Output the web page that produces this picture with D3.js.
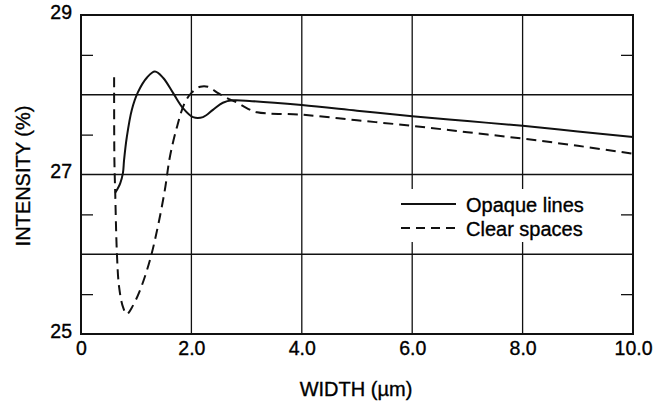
<!DOCTYPE html>
<html>
<head>
<meta charset="utf-8">
<script src="https://cdn.jsdelivr.net/npm/d3@7"></script>
<style>
  body { margin: 0; background: #fff; }
  svg text { font-family: "Liberation Sans", Arial, Helvetica, sans-serif; fill: #000; stroke: #000; stroke-width: 0.35px; }
</style>
</head>
<body>
<svg id="chart" width="653" height="406"></svg>
<script>
'use strict';

// values (width in um, intensity in %)
var opaqueX = [0.62, 0.71, 0.76, 0.78, 0.83, 0.92, 1.03, 1.20, 1.34, 1.49, 1.67, 1.85, 2.03, 2.21, 2.39, 2.57, 2.75, 3.1, 4.0, 5.0, 6.0, 7.0, 8.0, 9.0, 10.0];
var opaqueY = [26.77, 26.89, 27.02, 27.18, 27.47, 27.81, 28.03, 28.22, 28.29, 28.21, 28.02, 27.83, 27.72, 27.72, 27.81, 27.90, 27.93, 27.92, 27.87, 27.80, 27.73, 27.67, 27.61, 27.54, 27.47];

var clearX = [0.60, 0.605, 0.62, 0.65, 0.69, 0.76, 0.83, 0.92, 1.07, 1.25, 1.39, 1.52, 1.61, 1.74, 1.88, 2.01, 2.16, 2.30, 2.46, 2.64, 2.83, 3.01, 3.19, 4.0, 5.0, 6.0, 7.0, 8.0, 9.0, 10.0];
var clearY = [28.22, 27.18, 26.77, 26.02, 25.59, 25.34, 25.25, 25.33, 25.55, 25.93, 26.34, 26.81, 27.22, 27.60, 27.90, 28.03, 28.10, 28.10, 28.03, 27.96, 27.90, 27.83, 27.78, 27.75, 27.68, 27.61, 27.53, 27.45, 27.36, 27.26];

var xTicks = [0, 2, 4, 6, 8, 10];
var xGrid = [2, 4, 6, 8];
var yLabels = [25, 27, 29];
var yGrid = [26, 27, 28];
var leftMinor = [25.5, 26.5, 27.5, 28.5];
var rightMinor = [25.5, 26.5, 28.5];

var seriesNames = ['Opaque lines', 'Clear spaces'];

var svg = d3.select('#chart');

var x = d3.scaleLinear().domain([0, 10]).range([81, 633]);
var y = d3.scaleLinear().domain([25, 29]).range([334, 15]);

function zip(xs, ys) {
    return xs.map(function (v, i) { return [v, ys[i]]; });
}

// grid
svg.append('g').selectAll('line')
    .data(yGrid)
    .enter().append('line')
    .attr('x1', x(0)).attr('x2', x(10))
    .attr('y1', function (d) { return y(d); })
    .attr('y2', function (d) { return y(d); })
    .style('stroke', '#111').style('stroke-width', 1.3);

svg.append('g').selectAll('line')
    .data(xGrid)
    .enter().append('line')
    .attr('x1', function (d) { return x(d); })
    .attr('x2', function (d) { return x(d); })
    .attr('y1', y(25)).attr('y2', y(29))
    .style('stroke', '#111').style('stroke-width', 1.3);

// inner minor ticks
svg.append('g')
    .attr('transform', 'translate(' + x(0) + ',0)')
    .call(d3.axisLeft(y).tickValues(leftMinor).tickSize(-12).tickFormat(''))
    .call(function (g) { g.select('.domain').remove(); })
    .selectAll('line').style('stroke', '#111').style('stroke-width', 1.3);

svg.append('g')
    .attr('transform', 'translate(' + x(10) + ',0)')
    .call(d3.axisRight(y).tickValues(rightMinor).tickSize(-12).tickFormat(''))
    .call(function (g) { g.select('.domain').remove(); })
    .selectAll('line').style('stroke', '#111').style('stroke-width', 1.3);

// legend background hides the grid behind it
svg.append('rect')
    .attr('x', 394).attr('y', 189)
    .attr('width', 210).attr('height', 53)
    .style('fill', '#fff');

// frame
svg.append('rect')
    .attr('x', x(0)).attr('y', y(29))
    .attr('width', x(10) - x(0)).attr('height', y(25) - y(29))
    .style('fill', 'none').style('stroke', '#111').style('stroke-width', 2);

// tick labels
var yAxis = svg.append('g')
    .attr('transform', 'translate(' + (x(0) - 6) + ',-3)')
    .call(d3.axisLeft(y).tickValues(yLabels).tickSize(0).tickFormat(d3.format('d')));
yAxis.select('.domain').remove();
yAxis.selectAll('text').style('font-size', '19.5px').style('font-family', null);

var xAxis = svg.append('g')
    .attr('transform', 'translate(0,' + (y(25) + 4) + ')')
    .call(d3.axisBottom(x).tickValues(xTicks).tickSize(0)
        .tickFormat(function (d) { return d === 0 ? '0' : d3.format('.1f')(d); }));
xAxis.select('.domain').remove();
xAxis.selectAll('text').style('font-size', '19.5px').style('font-family', null);

// curves
var line = d3.line()
    .x(function (d) { return x(d[0]); })
    .y(function (d) { return y(d[1]); })
    .curve(d3.curveCatmullRom.alpha(0.5));

svg.append('path')
    .datum(zip(opaqueX, opaqueY))
    .attr('d', line)
    .style('fill', 'none').style('stroke', '#111').style('stroke-width', 2);

svg.append('path')
    .datum(zip(clearX, clearY))
    .attr('d', line)
    .style('fill', 'none').style('stroke', '#111').style('stroke-width', 2)
    .style('stroke-dasharray', '10,6');

// legend
var legend = svg.append('g').selectAll('g')
    .data(seriesNames)
    .enter().append('g')
    .attr('transform', function (d, i) { return 'translate(401,' + (204 + i * 24) + ')'; });

legend.append('line')
    .attr('x1', 0).attr('x2', 55)
    .style('stroke', '#111').style('stroke-width', 2)
    .style('stroke-dasharray', function (d, i) { return i ? '9,6' : null; });

legend.append('text')
    .attr('x', 65).attr('y', 7.5)
    .style('font-size', '20px')
    .text(function (d) { return d; });

// axis titles
svg.append('text')
    .attr('x', 356).attr('y', 396)
    .attr('text-anchor', 'middle')
    .style('font-size', '20px')
    .text('WIDTH (\u00b5m)');

svg.append('text')
    .attr('transform', 'translate(30,176) rotate(-90)')
    .attr('text-anchor', 'middle')
    .style('font-size', '20px')
    .text('INTENSITY (%)');
</script>
</body>
</html>
